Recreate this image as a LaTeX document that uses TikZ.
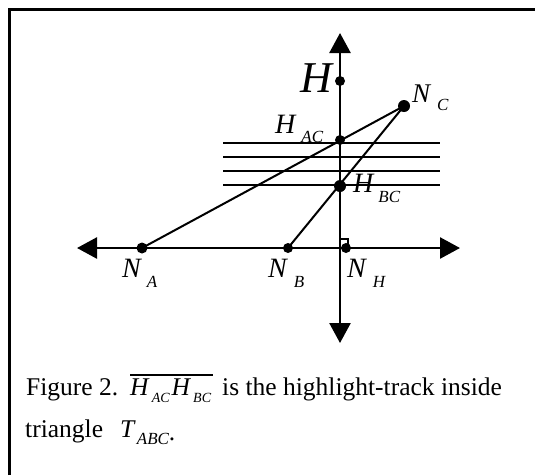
\documentclass[tikz,border=0pt]{standalone}
\usepackage{fontspec}
\setmainfont{Liberation Serif}
\usetikzlibrary{arrows.meta}
\newcommand\lbl[5]{{\fontsize{#3}{#3}\selectfont\itshape #1}\kern#4pt\raisebox{-#5pt}{\fontsize{17}{17}\selectfont\itshape #2}}
\tikzset{
  axis/.style={line width=2.5pt,{Triangle[length=20pt,width=21pt]}-{Triangle[length=20pt,width=21pt]}},
  edge/.style={line width=2pt},
  track/.style={line width=2pt},
  frame/.style={line width=3pt},
  dot/.style={circle,fill,inner sep=0pt,minimum size=10pt},
  bigdot/.style={dot,minimum size=12pt},
  lab/.style={inner sep=0pt,anchor=base west},
  captxt/.style={inner sep=0pt,anchor=base west,font=\fontsize{25.5}{25.5}\selectfont}
}
\begin{document}
\begin{tikzpicture}[x=1pt,y=-1pt]
\useasboundingbox (0,0) rectangle (535,475);
% frame (top and left edges)
\coordinate (fbl) at (9.5,475);
\coordinate (ftl) at (9.5,9.5);
\coordinate (ftr) at (535,9.5);
\draw[frame] (fbl) -- (ftl) -- (ftr);
% axes
\coordinate (vtop) at (340,33);
\coordinate (vbot) at (340,343);
\coordinate (hleft) at (77,248);
\coordinate (hright) at (460,248);
\draw[axis] (vbot) -- (vtop);
\draw[axis] (hleft) -- (hright);
% track lines
\foreach \y/\n in {143/1,157/2,171/3,185/4}{
  \coordinate (tl\n) at (223,\y);
  \coordinate (tr\n) at (440,\y);
  \draw[track] (tl\n) -- (tr\n);
}
% points
\node[dot] (H) at (340,81) {};
\node[bigdot] (NC) at (404,106) {};
\node[dot] (HAC) at (340,140) {};
\node[bigdot] (HBC) at (340,186) {};
\node[dot,minimum size=11pt] (NA) at (142,248) {};
\node[dot] (NB) at (288,248) {};
\node[dot] (NH) at (346,248) {};
% triangle sides
\draw[edge] (NA.center) -- (NC.center);
\draw[edge] (NB.center) -- (NC.center);
% right angle mark
\coordinate (sq1) at (340,248);
\coordinate (sq2) at (348,239);
\draw[line width=1.5pt] (sq1) rectangle (sq2);
% labels
\node[lab] (lH) at (300,92) {\fontsize{44}{44}\selectfont\itshape H};
\node[lab] (lNC) at (412,102) {\lbl{N}{C}{27}{7}{8}};
\node[lab] (lHAC) at (275,133) {\lbl{H}{AC}{28}{6}{9}};
\node[lab] (lHBC) at (353,192) {\lbl{H}{BC}{28}{5}{10}};
\node[lab] (lNA) at (122,277) {\lbl{N}{A}{28}{6}{10}};
\node[lab] (lNB) at (268,277) {\lbl{N}{B}{28}{7}{10}};
\node[lab] (lNH) at (347,277) {\lbl{N}{H}{28}{7}{10}};
% caption
\node[captxt] (c1) at (26,395) {Figure 2.};
\node[captxt] (ov) at (130,395) {\textit{H}\kern2pt\raisebox{-7pt}{\fontsize{14}{14}\selectfont\itshape AC}\kern2pt\textit{H}\kern2pt\raisebox{-7pt}{\fontsize{14}{14}\selectfont\itshape BC}};
\draw[line width=1.5pt] ([yshift=3pt]ov.north west) -- ([yshift=3pt,xshift=2pt]ov.north east);
\node[captxt] (c2) at (222,395) {is the highlight-track inside};
\node[captxt] (c3) at (25,437) {triangle};
\node[captxt] (c4) at (120,437) {\textit{T}\kern1pt\raisebox{-7pt}{\fontsize{17}{17}\selectfont\itshape ABC}\raisebox{-3pt}{.}};
\end{tikzpicture}
\end{document}
